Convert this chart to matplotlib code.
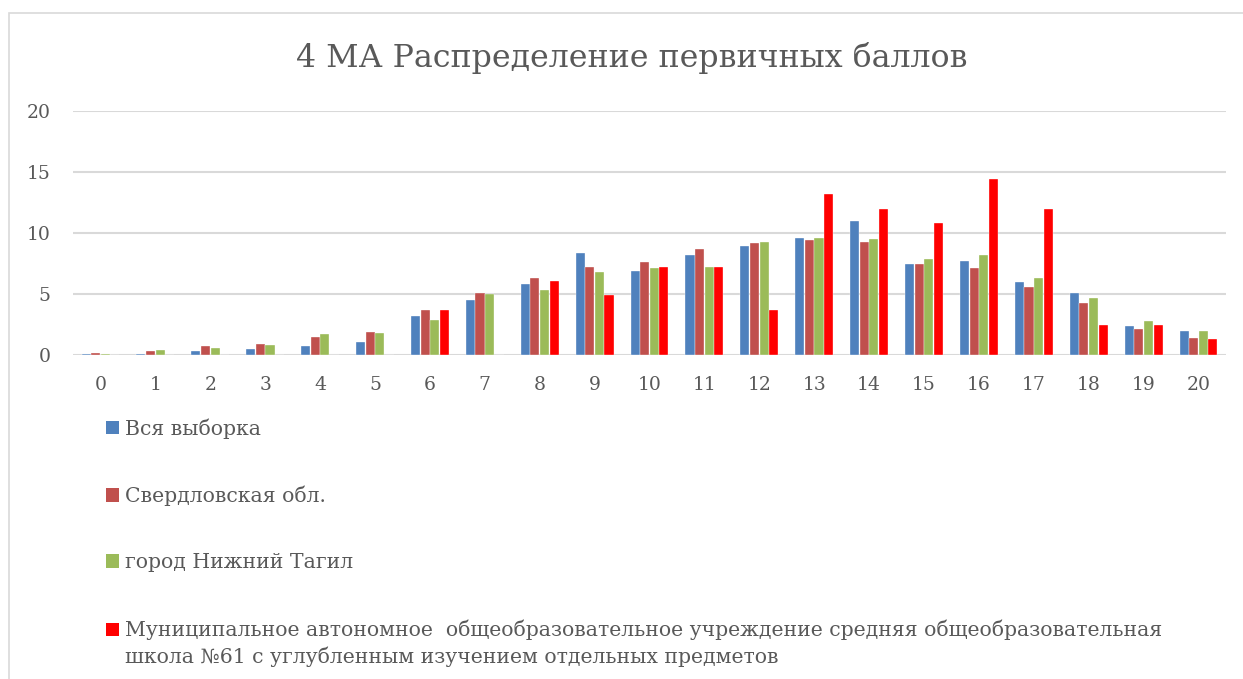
import matplotlib.pyplot as plt
import numpy as np
from matplotlib.patches import Rectangle, Patch
from matplotlib.legend_handler import HandlerPatch

plt.rcParams['font.family'] = ['DejaVu Serif']

scores = list(range(21))
vsya = [0.1, 0.1, 0.3, 0.5, 0.7, 1.1, 3.2, 4.5, 5.8, 8.4, 6.9, 8.2, 8.9, 9.6, 11.0, 7.5, 7.7, 6.0, 5.1, 2.4, 2.0]
sverdl = [0.2, 0.3, 0.7, 0.9, 1.5, 1.9, 3.7, 5.1, 6.3, 7.2, 7.6, 8.7, 9.2, 9.4, 9.3, 7.5, 7.1, 5.6, 4.3, 2.1, 1.4]
tagil = [0.1, 0.4, 0.6, 0.8, 1.7, 1.8, 2.9, 5.0, 5.3, 6.8, 7.1, 7.2, 9.3, 9.6, 9.5, 7.9, 8.2, 6.3, 4.7, 2.8, 2.0]
school = [0, 0, 0, 0, 0, 0, 3.7, 0, 6.1, 4.9, 7.2, 7.2, 3.7, 13.2, 12.0, 10.8, 14.4, 12.0, 2.5, 2.5, 1.3]

names = ["Вся выборка", "Свердловская обл.", "город Нижний Тагил",
         "Муниципальное автономное  общеобразовательное учреждение средняя общеобразовательная\n"
         "школа №61 с углубленным изучением отдельных предметов"]
colors = ['#4F81BD', '#C0504D', '#9BBB59', '#FF0000']
series = [vsya, sverdl, tagil, school]

fig = plt.figure(figsize=(12.43, 6.79), dpi=100)
ax = fig.add_axes([73/1243, 1-355/679, (1226-73)/1243, 244/679])

x = np.arange(len(scores))
w = 0.165
step = 0.175
for i, (vals, c) in enumerate(zip(series, colors)):
    ax.bar(x + (i - 1.5) * step, vals, width=w, color=c, edgecolor='white', linewidth=0.25, zorder=3)

ax.set_xlim(-0.5, 20.5)
ax.set_ylim(0, 20)
ax.set_yticks([0, 5, 10, 15, 20])
ax.set_xticks(x)
ax.set_xticklabels([str(s) for s in scores])
ax.grid(axis='y', color='#d9d9d9', linewidth=1.5, zorder=0)
for s in ax.spines.values():
    s.set_visible(False)
ax.tick_params(axis='both', length=0, labelsize=13.5, labelcolor='#595959')
ax.tick_params(axis='y', pad=16)
ax.tick_params(axis='x', pad=15)

fig.text(632/1243, 1-58/679, "4 МА Распределение первичных баллов", ha='center', va='center',
         fontsize=22.8, color='#595959')


# marker of the two-line entry sits next to its first line
def first_line(legend, orig_handle, xdescent, ydescent, width, height, fontsize):
    return Rectangle((-xdescent, -ydescent + 10), width, height)


handles = [Patch(facecolor=c, edgecolor='none') for c in colors]
leg = fig.legend(handles, names, loc='upper left', bbox_to_anchor=(98/1243, 1-410/679),
                 frameon=False, fontsize=14.7, labelcolor='#595959', handlelength=0.62,
                 handleheight=0.62, handletextpad=0.3, labelspacing=2.3, borderaxespad=0,
                 handler_map={handles[3]: HandlerPatch(patch_func=first_line)})
for t in leg.get_texts():
    t.set_linespacing(1.4)

fig.patches.append(Rectangle((9/1243, -0.1), 1.2, 1.1 - 13/679, transform=fig.transFigure,
                             fill=False, edgecolor='#d9d9d9', linewidth=1.2))

fig.savefig('out.png', dpi=100)
